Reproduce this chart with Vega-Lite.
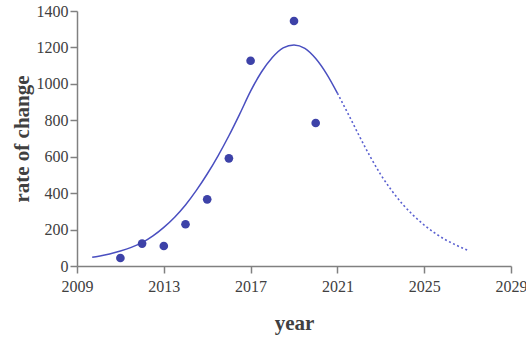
{
  "$schema": "https://vega.github.io/schema/vega-lite/v6.json",
  "width": 434,
  "height": 255,
  "autosize": {"type": "none"},
  "padding": {"left": 77, "top": 11, "right": 15, "bottom": 74},
  "background": "white",
  "config": {
    "view": {"stroke": null},
    "axis": {
      "grid": false,
      "domainColor": "#808080",
      "domainWidth": 1.5,
      "tickColor": "#808080",
      "tickWidth": 1.5,
      "tickSize": 7,
      "labelFont": "Liberation Serif",
      "labelFontSize": 16,
      "labelColor": "#404040",
      "titleFont": "Liberation Serif",
      "titleFontSize": 21,
      "titleFontWeight": "bold",
      "titleColor": "#404040"
    }
  },
  "datasets": {
    "obs": [
      {"year": 2011, "value": 44},
      {"year": 2012, "value": 123},
      {"year": 2013, "value": 110},
      {"year": 2014, "value": 229},
      {"year": 2015, "value": 366},
      {"year": 2016, "value": 591},
      {"year": 2017, "value": 1127},
      {"year": 2019, "value": 1345},
      {"year": 2020, "value": 785}
    ],
    "curve": [
      {"year": 2009.7, "value": 48, "part": "fit"},
      {"year": 2010, "value": 54, "part": "fit"},
      {"year": 2010.5, "value": 66, "part": "fit"},
      {"year": 2011, "value": 82, "part": "fit"},
      {"year": 2011.5, "value": 102, "part": "fit"},
      {"year": 2012, "value": 128, "part": "fit"},
      {"year": 2012.5, "value": 165, "part": "fit"},
      {"year": 2013, "value": 212, "part": "fit"},
      {"year": 2013.5, "value": 268, "part": "fit"},
      {"year": 2014, "value": 335, "part": "fit"},
      {"year": 2014.5, "value": 415, "part": "fit"},
      {"year": 2015, "value": 505, "part": "fit"},
      {"year": 2015.5, "value": 605, "part": "fit"},
      {"year": 2016, "value": 715, "part": "fit"},
      {"year": 2016.5, "value": 835, "part": "fit"},
      {"year": 2017, "value": 960, "part": "fit"},
      {"year": 2017.5, "value": 1065, "part": "fit"},
      {"year": 2018, "value": 1145, "part": "fit"},
      {"year": 2018.5, "value": 1198, "part": "fit"},
      {"year": 2019, "value": 1214, "part": "fit"},
      {"year": 2019.5, "value": 1195, "part": "fit"},
      {"year": 2020, "value": 1139, "part": "fit"},
      {"year": 2020.5, "value": 1055, "part": "fit"},
      {"year": 2021, "value": 949, "part": "fit"},
      {"year": 2021, "value": 949, "part": "proj"},
      {"year": 2021.5, "value": 834, "part": "proj"},
      {"year": 2022, "value": 716, "part": "proj"},
      {"year": 2022.5, "value": 603, "part": "proj"},
      {"year": 2023, "value": 501, "part": "proj"},
      {"year": 2023.5, "value": 415, "part": "proj"},
      {"year": 2024, "value": 340, "part": "proj"},
      {"year": 2024.5, "value": 278, "part": "proj"},
      {"year": 2025, "value": 225, "part": "proj"},
      {"year": 2025.5, "value": 180, "part": "proj"},
      {"year": 2026, "value": 143, "part": "proj"},
      {"year": 2026.5, "value": 113, "part": "proj"},
      {"year": 2027.05, "value": 84, "part": "proj"}
    ]
  },
  "encoding": {
    "x": {
      "field": "year",
      "type": "quantitative",
      "scale": {"domain": [2009, 2029], "nice": false, "zero": false},
      "axis": {
        "title": "year",
        "values": [2009, 2013, 2017, 2021, 2025, 2029],
        "format": "d",
        "labelPadding": 5,
        "titlePadding": 18,
        "labelFlush": false,
        "labelOverlap": false
      }
    },
    "y": {
      "field": "value",
      "type": "quantitative",
      "scale": {"domain": [0, 1400], "nice": false},
      "axis": {
        "title": "rate of change",
        "values": [0, 200, 400, 600, 800, 1000, 1200, 1400],
        "format": "d",
        "labelPadding": 2,
        "titlePadding": 4,
        "labelFlush": false,
        "labelOverlap": false
      }
    }
  },
  "layer": [
    {
      "data": {"name": "curve"},
      "transform": [{"filter": "datum.part === 'fit'"}],
      "mark": {"type": "line", "color": "#4a4fc0", "strokeWidth": 1.5, "interpolate": "monotone"}
    },
    {
      "data": {"name": "curve"},
      "transform": [{"filter": "datum.part === 'proj'"}],
      "mark": {"type": "line", "color": "#5a60d0", "strokeWidth": 1.6, "strokeDash": [2, 2.5], "interpolate": "monotone"}
    },
    {
      "data": {"name": "obs"},
      "mark": {"type": "point", "filled": true, "shape": "circle", "size": 75, "color": "#3d42a8", "opacity": 1}
    }
  ]
}
